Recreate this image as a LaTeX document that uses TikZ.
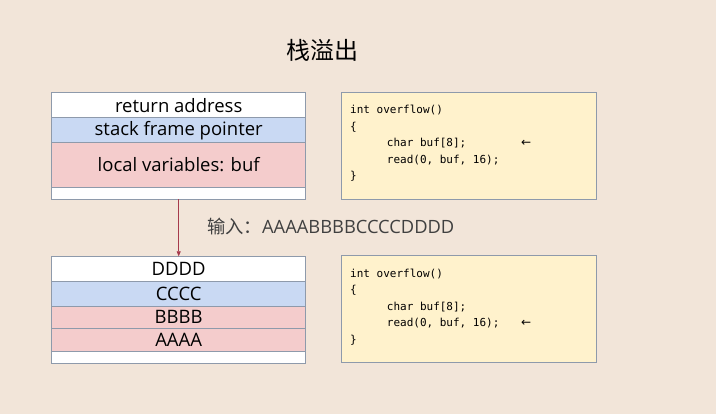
\documentclass[tikz,border=0pt]{standalone}
\usepackage{fontspec}
\setmainfont{Open Sans}
\newfontfamily\cjk{Noto Sans CJK SC}
\newfontfamily\codefont{DejaVu Sans Mono}
\newfontfamily\symfont{DejaVu Sans}
\usetikzlibrary{arrows.meta}
\definecolor{bgc}{HTML}{F2E5D9}
\definecolor{bordc}{HTML}{8E9AAB}
\definecolor{bluec}{HTML}{C9D9F3}
\definecolor{pinkc}{HTML}{F4CCCC}
\definecolor{codec}{HTML}{FFF2CC}
\definecolor{arrc}{HTML}{A63A4C}
\definecolor{labc}{HTML}{404040}
\begin{document}
\begin{tikzpicture}[x=1pt,y=-1pt,
  cell/.style={draw=bordc, line width=0.8pt, minimum width=254pt, inner sep=0pt, font=\fontsize{18.5}{20}\selectfont, text=black},
  codebox/.style={draw=bordc, line width=0.8pt, fill=codec, minimum width=255pt, inner sep=0pt},
  codeline/.style={anchor=base west, inner sep=0pt, font=\codefont\fontsize{11}{13}\selectfont, text=black},
  markarrow/.style={anchor=base west, inner sep=0pt, font=\symfont\fontsize{12}{13}\selectfont, text=black},
  arr/.style={draw=arrc, line width=0.7pt, -{Triangle[width=4pt,length=5pt]}}]
\fill[bgc] (0,0) rectangle (716,414);
\useasboundingbox (0,0) rectangle (716,414);

\node[font=\cjk\fontsize{24}{26}\selectfont, text=black] (title) at (322,50) {栈溢出};

% top stack
\node[cell, fill=white, minimum height=25.2pt] (t1) at (178.7,105.1) {return address};
\node[cell, fill=bluec, minimum height=25pt] (t2) at (178.7,130.2) {stack frame pointer};
\node[cell, fill=pinkc, minimum height=44.3pt] (t3) at (178.7,164.9) {local variables: buf};
\node[cell, fill=white, minimum height=12pt] (t4) at (178.7,193) {};

% bottom stack
\node[cell, fill=white, minimum height=24.6pt] (b1) at (178.7,269) {DDDD};
\node[cell, fill=bluec, minimum height=25pt] (b2) at (178.7,293.8) {CCCC};
\node[cell, fill=pinkc, minimum height=22pt] (b3) at (178.7,317.3) {BBBB};
\node[cell, fill=pinkc, minimum height=22.7pt] (b4) at (178.7,339.7) {AAAA};
\node[cell, fill=white, minimum height=12.3pt] (b5) at (178.7,357.2) {};

\draw[arr] (t4.south) -- (b1.north);

\node[anchor=west, inner sep=0pt, text=labc, font=\fontsize{18.3}{20}\selectfont] (inp) at (207,227) {{\cjk 输入：}AAAABBBBCCCCDDDD};

% top code box
\node[codebox, minimum height=107pt] (c1) at (469.2,145.6) {};
\node[codeline] (c1l1) at (350,114) {int overflow()};
\node[codeline] (c1l2) at (350,130.5) {\{};
\node[codeline] (c1l3) at (386.7,147) {char buf[8];};
\node[codeline] (c1l4) at (386.7,163.5) {read(0, buf, 16);};
\node[codeline] (c1l5) at (350,180) {\}};
\node[markarrow] (c1a) at (521,146.5) {←};

% bottom code box
\node[codebox, minimum height=107.7pt] (c2) at (469.2,308.9) {};
\node[codeline] (c2l1) at (350,277.5) {int overflow()};
\node[codeline] (c2l2) at (350,294) {\{};
\node[codeline] (c2l3) at (386.7,310.5) {char buf[8];};
\node[codeline] (c2l4) at (386.7,327) {read(0, buf, 16);};
\node[codeline] (c2l5) at (350,343.5) {\}};
\node[markarrow] (c2a) at (521,326.5) {←};
\end{tikzpicture}
\end{document}
